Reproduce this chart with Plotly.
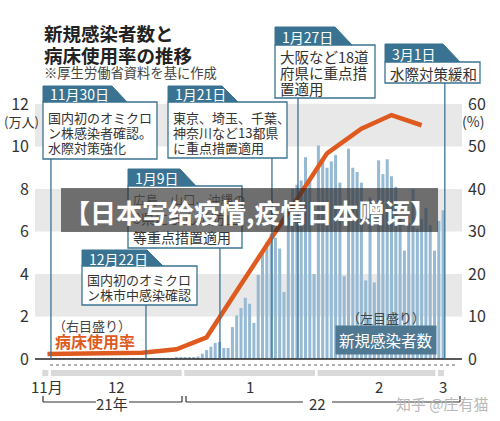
import pandas as pd
import plotly.graph_objects as go


# ==========================================================
# DATA
# ==========================================================

# new infections per day, in 10,000 people (left axis)
cases_dec = [
    0.01, 0.01, 0.01, 0.01, 0.01, 0.01, 0.01, 0.01, 0.01, 0.01,
    0.01, 0.01, 0.01, 0.01, 0.01, 0.01, 0.01, 0.02, 0.02, 0.02,
    0.02, 0.02, 0.02, 0.03, 0.03, 0.03, 0.02, 0.03, 0.04, 0.05, 0.05
]
cases_jan = [
    0.05, 0.06, 0.08, 0.12, 0.25, 0.42, 0.58, 0.76, 0.80, 0.52,
    0.52, 1.50, 2.05, 2.40, 2.88, 2.60, 1.70, 3.95, 4.95, 5.50,
    5.90, 5.70, 5.20, 3.15, 7.20, 8.00, 8.20, 8.40, 9.50, 8.50, 4.00
]
cases_feb = [
    10.05, 9.40, 9.00, 9.30, 9.60, 8.30, 3.90, 9.90, 9.00, 8.80,
    8.30, 3.70, 7.60, 3.60, 9.35, 8.70, 9.40, 8.60, 8.10, 6.60,
    5.10, 6.40, 8.00, 6.10, 6.60, 7.10, 6.30, 5.10
]
cases_mar = [6.50, 7.00]

# bed occupancy rate, % (right axis)
bed_dates = [
    "2021-11-30", "2021-12-22", "2021-12-30", "2022-01-06", "2022-01-13",
    "2022-01-20", "2022-01-27", "2022-02-03", "2022-02-11", "2022-02-18",
    "2022-02-25"
]
bed_rate = [1.2, 1.5, 2.3, 5.1, 16.0, 26.7, 37.5, 48.4, 54.2, 57.4, 55.0]

left_ticks = [0, 2, 4, 6, 8, 10, 12]
right_ticks = [0, 10, 20, 30, 40, 50, 60]

month_labels = ["11月", "12", "1", "2", "3"]
month_mids = ["2021-11-30", "2021-12-16", "2022-01-16", "2022-02-15", "2022-03-02"]
month_starts = ["2021-11-29", "2021-12-01", "2022-01-01", "2022-02-01", "2022-03-01"]
month_ends = ["2021-11-30", "2021-12-31", "2022-01-31", "2022-02-28", "2022-03-02"]

event_dates = ["2021-11-30", "2021-12-22", "2022-01-09", "2022-01-21", "2022-01-27", "2022-03-01"]
event_heads = ["11月30日", "12月22日", "1月9日", "1月21日", "1月27日", "3月1日"]
event_texts = [
    ["国内初のオミクロ", "ン株感染者確認。", "水際対策強化"],
    ["国内初のオミクロ", "ン株市中感染確認"],
    ["広島、山口、沖縄の", "3県にまん延防止", "等重点措置適用"],
    ["東京、埼玉、千葉、", "神奈川など13都県", "に重点措置適用"],
    ["大阪など18道", "府県に重点措", "置適用"],
    ["水際対策緩和"],
]

case_dates = pd.date_range("2021-12-01", periods=len(cases_dec + cases_jan + cases_feb + cases_mar))
cases = cases_dec + cases_jan + cases_feb + cases_mar


# ==========================================================
# LAYOUT HELPERS (pixel -> paper)
# ==========================================================

FONT = "Noto Sans CJK JP"
TEAL = "#3a7391"
ORANGE = "#de5a1f"
BAR_BLUE = "#96b9d4"
BAND_GREY = "#e8e8e8"
TEXT = "#333333"

W, H = 500, 421
M_L, M_R, M_T, M_B = 35, 38, 104, 62
PLOT_W = W - M_L - M_R
PLOT_H = H - M_T - M_B

JAN1_PX = 185.1
DAY_PX = 4.3
X_START = pd.Timestamp("2022-01-01") - pd.Timedelta(days=(JAN1_PX - M_L) / DAY_PX)
X_END = pd.Timestamp("2022-01-01") + pd.Timedelta(days=(M_L + PLOT_W - JAN1_PX) / DAY_PX)


def fx(px):
    return (px - M_L) / PLOT_W


def fy(py):
    return (M_T + PLOT_H - py) / PLOT_H


def fd(day, shift=0.0):
    t = pd.Timestamp(day) + pd.Timedelta(days=shift)
    return (t - X_START) / (X_END - X_START)


def text(x, y, s, size=13, color=TEXT, anchor="center", **kw):
    return dict(
        x=x, y=y, xref="paper", yref="paper", text=s, showarrow=False,
        xanchor=anchor, yanchor="middle",
        font=dict(family=FONT, size=size, color=color), **kw
    )


def line(x0, y0, x1, y1, color=TEAL, width=1.3, dash=None, layer="above"):
    return dict(
        type="line", xref="paper", yref="paper", x0=x0, y0=y0, x1=x1, y1=y1,
        line=dict(color=color, width=width, dash=dash), layer=layer
    )


def rect(x0, y0, x1, y1, fill, border=None, layer="above"):
    return dict(
        type="rect", xref="paper", yref="paper", x0=x0, y0=y0, x1=x1, y1=y1,
        fillcolor=fill, line=dict(color=border or fill, width=1.3 if border else 0),
        layer=layer
    )


# callout boxes, in pixels
CALLOUTS = [
    dict(l=43, r=157, tt=86, tb=102, bb=159, trt=112, trb=127, fs=13, rows=[117, 132, 147], shift=0.8),
    dict(l=82, r=197, tt=250, tb=266, bb=305, trt=147, trb=163, fs=13, rows=[279, 294], shift=0.9),
    dict(l=128, r=242, tt=169, tb=186, bb=248, trt=180, trb=196, fs=[12.5, 14, 14], rows=[199, 218, 237], shift=0.1),
    dict(l=168, r=287, tt=86, tb=102, bb=158, trt=222, trb=238, fs=13, rows=[117, 132, 147], shift=0.2),
    dict(l=275, r=375, tt=27, tb=45, bb=98, trt=335, trb=352, fs=14.5, rows=[56, 72, 88], shift=0.25),
    dict(l=385, r=480, tt=44, tb=62, bb=83, trt=443, trb=460, fs=14.5, rows=[73], shift=1.4),
]

BANNER = dict(l=61, r=438, t=188, b=232)


# ==========================================================
# FIGURE
# ==========================================================

fig = go.Figure()

fig.add_trace(
    go.Bar(
        x=case_dates,
        y=cases,
        marker=dict(color=BAR_BLUE, line=dict(width=0)),
        yaxis="y"
    )
)

fig.add_trace(
    go.Scatter(
        x=pd.to_datetime(bed_dates),
        y=bed_rate,
        mode="lines",
        line=dict(color=ORANGE, width=4.5),
        yaxis="y2"
    )
)

shapes = []
annotations = []

# grey bands
for lo in [2, 6, 10]:
    shapes.append(dict(
        type="rect", xref="paper", yref="y", x0=0, x1=1, y0=lo, y1=lo + 2,
        fillcolor=BAND_GREY, line=dict(width=0), layer="below"
    ))

# axis base line, dotted line and month strips
shapes.append(line(0, 0, 1, 0, color="#222222", width=1.5))
shapes.append(line(fx(50), fy(365), fx(458), fy(365), color="#666666", width=1.2, dash="dot"))

for start, end, lab, mid in zip(month_starts, month_ends, month_labels, month_mids):
    shapes.append(rect(fd(start, -0.2), fy(376), fd(end, 0.2), fy(370), "#d9d9d9"))
    annotations.append(text(fd(mid), fy(386), lab, size=15))

# year brackets
for xl, xr, gap_l, gap_r, lab, xm in [(43, 182, 96, 129, "21年", 112), (186, 460, 303, 332, "22", 317)]:
    shapes.append(line(fx(xl), fy(402), fx(gap_l), fy(402), color="#333333", width=1.2))
    shapes.append(line(fx(gap_r), fy(402), fx(xr), fy(402), color="#333333", width=1.2))
    shapes.append(line(fx(xl), fy(402), fx(xl), fy(396), color="#333333", width=1.2))
    shapes.append(line(fx(xr), fy(402), fx(xr), fy(396), color="#333333", width=1.2))
    annotations.append(text(fx(xm), fy(403), lab, size=15))

# callouts
for box, day, head, rows_text in zip(CALLOUTS, event_dates, event_heads, event_texts):
    path = "M {0},{1} L {0},{2} L {3},{2} L {4},{1} Z".format(
        fx(box["l"]), fy(box["tb"]), fy(box["tt"]), fx(box["trt"]), fx(box["trb"])
    )
    shapes.append(dict(type="path", xref="paper", yref="paper", path=path,
                       fillcolor=TEAL, line=dict(color=TEAL, width=1), layer="above"))
    shapes.append(rect(fx(box["l"]), fy(box["bb"]), fx(box["r"]), fy(box["tb"]), "white", border=TEAL))
    shapes.append(line(fd(day, box["shift"]), fy(box["bb"]), fd(day, box["shift"]), 0))

    annotations.append(text(fx(box["l"] + 5), fy((box["tt"] + box["tb"]) / 2 + 0.5), head,
                            size=14, color="white", anchor="left"))

    sizes = box["fs"] if isinstance(box["fs"], list) else [box["fs"]] * len(rows_text)
    for row_y, s, size in zip(box["rows"], rows_text, sizes):
        under = BANNER["t"] < row_y < BANNER["b"]
        annotations.append(text(fx(box["l"] + 3), fy(row_y), s, size=size,
                                color="rgba(20,20,20,0.55)" if under else TEXT, anchor="left"))

# series labels
annotations.append(text(fx(92), fy(325), "（右目盛り）", size=13, color="#444444"))
annotations.append(text(fx(95), fy(341), "<b>病床使用率</b>", size=16, color=ORANGE))
annotations.append(text(fx(386), fy(317), "（左目盛り）", size=13, color="#444444"))
annotations.append(text(fx(386), fy(340), "新規感染者数", size=15.5, color="white",
                        bgcolor="#4f7892", borderpad=3))

# axis unit labels
annotations.append(text(fx(21), fy(121), "(万人)", size=13))
annotations.append(text(fx(473), fy(121), "(%)", size=14))

# title
annotations.append(text(fx(42), fy(33), "<b>新規感染者数と</b>", size=18.5, color="#222222", anchor="left"))
annotations.append(text(fx(42), fy(55), "<b>病床使用率の推移</b>", size=18.5, color="#222222", anchor="left"))
annotations.append(text(fx(42), fy(72), "※厚生労働省資料を基に作成", size=13.3, color="#444444", anchor="left"))

# overlay banner
shapes.append(dict(
    type="rect", xref="paper", yref="paper",
    x0=fx(BANNER["l"]), x1=fx(BANNER["r"]), y0=fy(BANNER["b"]), y1=fy(BANNER["t"]),
    fillcolor="rgba(35,35,35,0.62)", line=dict(width=0), layer="above"
))
annotations.append(dict(
    x=fx(250), y=fy(211), xref="paper", yref="paper", showarrow=False,
    text="<b>【日本写给疫情,疫情日本赠语】</b>", xanchor="center", yanchor="middle",
    font=dict(family="Noto Sans CJK SC", size=26, color="white")
))

# watermark
annotations.append(text(fx(442), fy(403), "知乎 @庄有猫", size=15, color="#b8b8b8"))

fig.update_layout(
    width=W,
    height=H,
    autosize=False,
    margin=dict(l=M_L, r=M_R, t=M_T, b=M_B, pad=0),
    paper_bgcolor="white",
    plot_bgcolor="white",
    showlegend=False,
    bargap=0.3,
    shapes=shapes,
    annotations=annotations,
    xaxis=dict(
        type="date",
        range=[X_START, X_END],
        showticklabels=False,
        showgrid=False,
        zeroline=False,
        showline=False,
        ticks=""
    ),
    yaxis=dict(
        range=[0, 12],
        tickvals=left_ticks,
        showgrid=False,
        zeroline=False,
        showline=False,
        ticks="",
        ticklabelstandoff=5,
        tickfont=dict(family=FONT, size=16, color=TEXT)
    ),
    yaxis2=dict(
        range=[0, 60],
        tickvals=right_ticks,
        overlaying="y",
        side="right",
        showgrid=False,
        zeroline=False,
        showline=False,
        ticks="",
        ticklabelstandoff=5,
        tickfont=dict(family=FONT, size=16, color=TEXT)
    ),
)

# drop the page's default body margin so the figure sits at the window corner
fig.write_html(
    "out.html",
    config={"displayModeBar": False},
    post_script="document.body.style.margin = '0';"
)
